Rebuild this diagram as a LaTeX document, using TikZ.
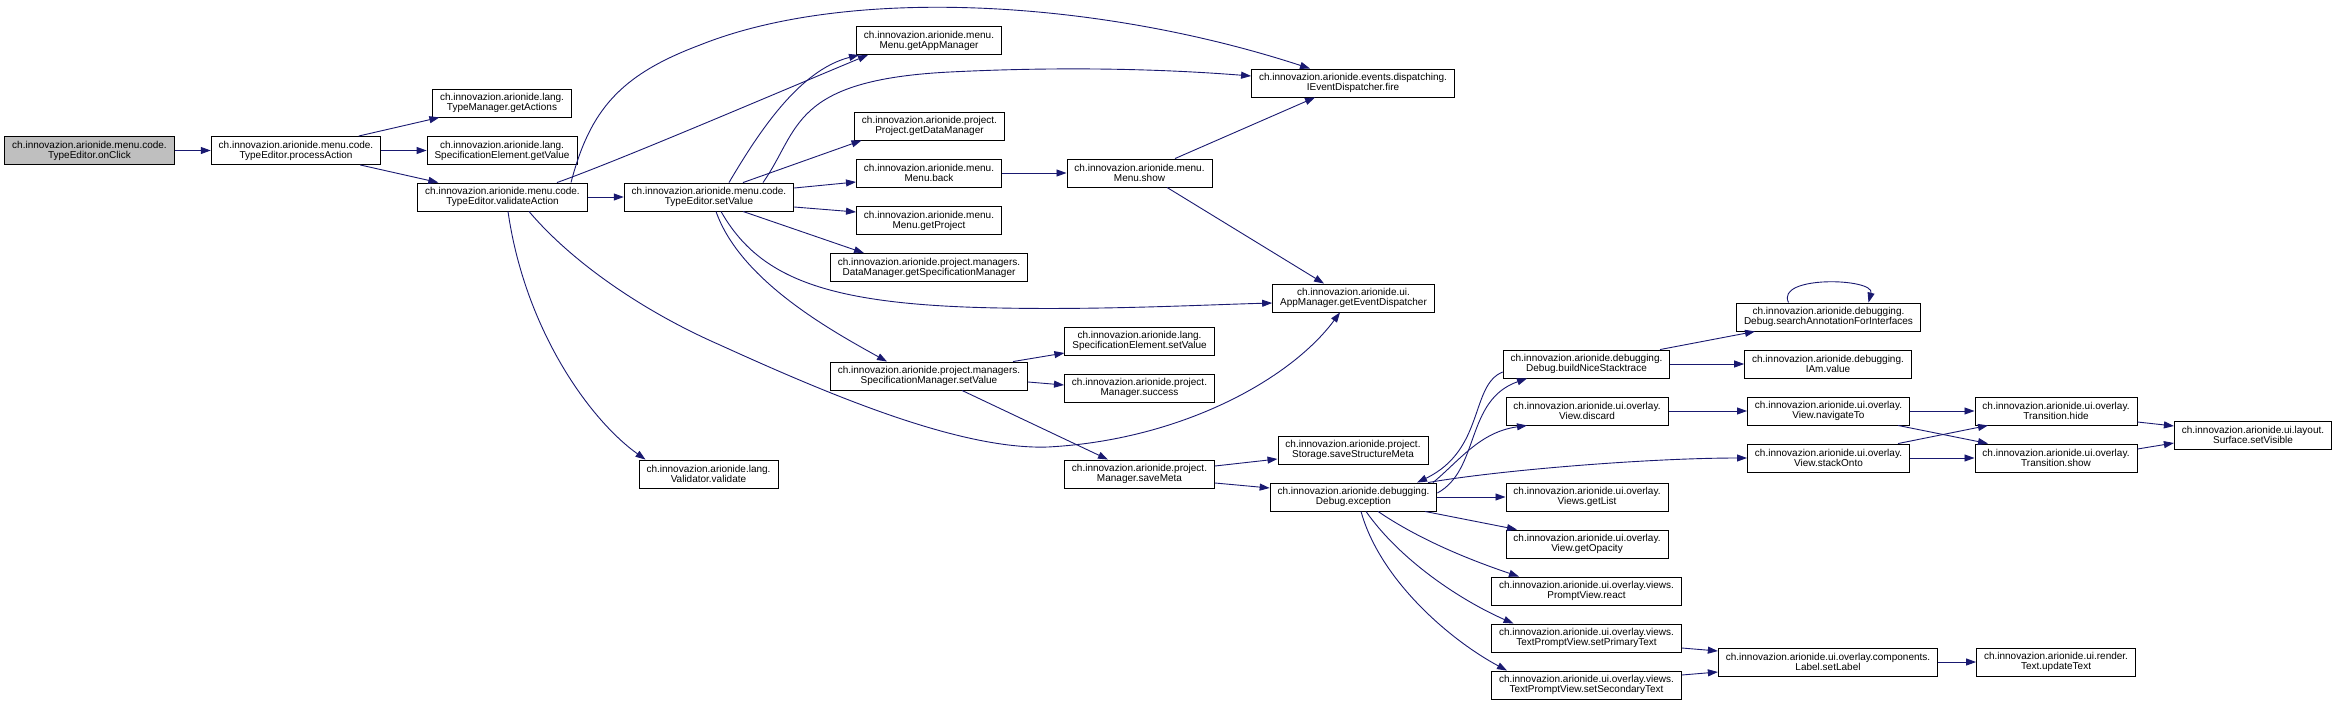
\documentclass[tikz,border=0pt]{standalone}
\usepackage{fontspec}
\setmainfont{Liberation Sans}
\usetikzlibrary{arrows.meta}

\definecolor{calledge}{HTML}{191970}
\definecolor{rootfill}{HTML}{BFBFBF}

\begin{document}
\begin{tikzpicture}[
  x=1pt, y=-1pt,
  fn/.style={rectangle, draw=black, line width=0.9pt, fill=white,
             minimum height=28pt, inner xsep=7.5pt, inner ysep=2pt,
             align=center, font=\fontsize{10}{10}\selectfont},
  root/.style={fn, fill=rootfill},
  call/.style={draw=calledge, line width=0.9pt, -{Triangle[length=10pt,width=7pt]}},
]
\useasboundingbox (0,0) rectangle (2336,704);

% ---- Caller: TypeEditor ----
\node[root] (onClick) at (89.5,150.5) {ch.innovazion.arionide.menu.code.\\TypeEditor.onClick};
\node[fn] (processAction) at (296,150.5) {ch.innovazion.arionide.menu.code.\\TypeEditor.processAction};
\node[fn] (getActions) at (502,103) {ch.innovazion.arionide.lang.\\TypeManager.getActions};
\node[fn] (SEgetValue) at (502,150.5) {ch.innovazion.arionide.lang.\\SpecificationElement.getValue};
\node[fn] (validateAction) at (502.5,197) {ch.innovazion.arionide.menu.code.\\TypeEditor.validateAction};
\node[fn] (TEsetValue) at (709,197) {ch.innovazion.arionide.menu.code.\\TypeEditor.setValue};
\node[fn] (validate) at (708.5,474) {ch.innovazion.arionide.lang.\\Validator.validate};

% ---- Menu / project ----
\node[fn] (getAppManager) at (929,40.5) {ch.innovazion.arionide.menu.\\Menu.getAppManager};
\node[fn] (getDataManager) at (929.5,126) {ch.innovazion.arionide.project.\\Project.getDataManager};
\node[fn] (back) at (929,173) {ch.innovazion.arionide.menu.\\Menu.back};
\node[fn] (getProject) at (929,220.5) {ch.innovazion.arionide.menu.\\Menu.getProject};
\node[fn] (getSpecManager) at (929,267.5) {ch.innovazion.arionide.project.managers.\\DataManager.getSpecificationManager};
\node[fn] (SMsetValue) at (929,376) {ch.innovazion.arionide.project.managers.\\SpecificationManager.setValue};
\node[fn] (show) at (1139.5,173) {ch.innovazion.arionide.menu.\\Menu.show};
\node[fn] (SEsetValue) at (1139.5,341) {ch.innovazion.arionide.lang.\\SpecificationElement.setValue};
\node[fn] (success) at (1139.5,388) {ch.innovazion.arionide.project.\\Manager.success};
\node[fn] (saveMeta) at (1139.5,474) {ch.innovazion.arionide.project.\\Manager.saveMeta};
\node[fn] (fire) at (1353,83) {ch.innovazion.arionide.events.dispatching.\\IEventDispatcher.fire};
\node[fn] (getEventDispatcher) at (1353.5,298) {ch.innovazion.arionide.ui.\\AppManager.getEventDispatcher};
\node[fn] (saveStructureMeta) at (1353,450) {ch.innovazion.arionide.project.\\Storage.saveStructureMeta};
\node[fn] (exception) at (1353.5,497) {ch.innovazion.arionide.debugging.\\Debug.exception};

% ---- Debugging / ui ----
\node[fn] (buildNice) at (1586.5,364) {ch.innovazion.arionide.debugging.\\Debug.buildNiceStacktrace};
\node[fn] (discard) at (1587,411) {ch.innovazion.arionide.ui.overlay.\\View.discard};
\node[fn] (getList) at (1587,497) {ch.innovazion.arionide.ui.overlay.\\Views.getList};
\node[fn] (getOpacity) at (1587,544) {ch.innovazion.arionide.ui.overlay.\\View.getOpacity};
\node[fn] (react) at (1586.5,591) {ch.innovazion.arionide.ui.overlay.views.\\PromptView.react};
\node[fn] (setPrimary) at (1586.5,638) {ch.innovazion.arionide.ui.overlay.views.\\TextPromptView.setPrimaryText};
\node[fn] (setSecondary) at (1586.5,685) {ch.innovazion.arionide.ui.overlay.views.\\TextPromptView.setSecondaryText};
\node[fn] (searchAnnotation) at (1828.5,317) {ch.innovazion.arionide.debugging.\\Debug.searchAnnotationForInterfaces};
\node[fn] (IAm) at (1828,364) {ch.innovazion.arionide.debugging.\\IAm.value};
\node[fn] (navigateTo) at (1828.5,411) {ch.innovazion.arionide.ui.overlay.\\View.navigateTo};
\node[fn] (stackOnto) at (1828.5,458) {ch.innovazion.arionide.ui.overlay.\\View.stackOnto};
\node[fn] (setLabel) at (1828,662) {ch.innovazion.arionide.ui.overlay.components.\\Label.setLabel};
\node[fn] (hide) at (2056,411) {ch.innovazion.arionide.ui.overlay.\\Transition.hide};
\node[fn] (Tshow) at (2056,458) {ch.innovazion.arionide.ui.overlay.\\Transition.show};
\node[fn] (updateText) at (2056,662) {ch.innovazion.arionide.ui.render.\\Text.updateText};
\node[fn] (setVisible) at (2253,435) {ch.innovazion.arionide.ui.layout.\\Surface.setVisible};

% ---- Calls from TypeEditor ----
\draw[call] (onClick) -- (processAction);
\draw[call] (processAction) -- (getActions);
\draw[call] (processAction) -- (SEgetValue);
\draw[call] (processAction) -- (validateAction);
\draw[call] (validateAction) -- (TEsetValue);
\draw[call] ([xshift=68.5pt]validateAction.north) .. controls (590,110) and (620,75) .. (700,45)
  .. controls (850,-15) and (1100,0) .. ([xshift=-43pt]fire.north);
\draw[call] ([xshift=54.5pt]validateAction.north) .. controls (620,160) and (760,100) .. ([xshift=-61pt]getAppManager.south);
\draw[call] ([xshift=26.5pt]validateAction.south) .. controls (570,260) and (640,310) .. (720,345)
  .. controls (830,395) and (960,450) .. (1048,447)
  .. controls (1180,440) and (1290,380) .. ([xshift=-13.5pt]getEventDispatcher.south);
\draw[call] ([xshift=5.5pt]validateAction.south) .. controls (525,330) and (590,420) .. ([xshift=-63pt]validate.north);

\draw[call] ([xshift=20pt]TEsetValue.north) .. controls (760,130) and (800,70) .. ([xshift=-70pt]getAppManager.south);
\draw[call] ([xshift=54pt]TEsetValue.north) .. controls (800,130) and (790,80) .. (950,72)
  .. controls (1050,67) and (1150,68) .. ([yshift=7pt]fire.west);
\draw[call] ([xshift=34pt]TEsetValue.north) -- ([xshift=-68pt]getDataManager.south);
\draw[call] ([yshift=9pt]TEsetValue.east) -- ([yshift=-9pt]back.west);
\draw[call] ([yshift=-10pt]TEsetValue.east) -- ([yshift=8.5pt]getProject.west);
\draw[call] ([xshift=34pt]TEsetValue.south) -- ([xshift=-65pt]getSpecManager.north);
\draw[call] ([xshift=12pt]TEsetValue.south) .. controls (760,280) and (830,305) .. (1000,308)
  .. controls (1100,310) and (1200,305) .. ([yshift=-5pt]getEventDispatcher.west);
\draw[call] ([xshift=7pt]TEsetValue.south) .. controls (740,280) and (830,330) .. ([xshift=-42pt]SMsetValue.north);

% ---- Menu and managers ----
\draw[call] (back) -- (show);
\draw[call] ([xshift=35.5pt]show.north) -- ([xshift=-38pt]fire.south);
\draw[call] ([xshift=27.5pt]show.south) -- ([xshift=-29.5pt]getEventDispatcher.north);
\draw[call] ([xshift=84pt]SMsetValue.north) -- ([yshift=-12pt]SEsetValue.west);
\draw[call] ([yshift=-6pt]SMsetValue.east) -- ([yshift=3pt]success.west);
\draw[call] ([xshift=33pt]SMsetValue.south) -- ([xshift=-31.5pt]saveMeta.north);
\draw[call] ([yshift=8pt]saveMeta.east) -- ([yshift=-9pt]saveStructureMeta.west);
\draw[call] ([yshift=-9pt]saveMeta.east) -- ([yshift=9pt]exception.west);

% ---- Debug.exception ----
\draw[call] ([yshift=4pt]exception.east) .. controls (1480,470) and (1465,400) .. ([xshift=-59.5pt]buildNice.south);
\draw[call] ([yshift=-8pt]buildNice.west) .. controls (1470,385) and (1485,450) .. ([xshift=63.5pt]exception.north);
\draw[call] ([xshift=79.5pt]exception.north) .. controls (1460,460) and (1480,432) .. ([xshift=-60pt]discard.south);
\draw[call] ([xshift=74.5pt]exception.north) .. controls (1500,470) and (1650,458) .. (stackOnto.west);
\draw[call] (exception) -- (getList);
\draw[call] ([xshift=71.5pt]exception.south) -- ([xshift=-70pt]getOpacity.north);
\draw[call] ([xshift=24.5pt]exception.south) .. controls (1420,540) and (1470,560) .. ([xshift=-67.5pt]react.north);
\draw[call] ([xshift=12.5pt]exception.south) .. controls (1400,560) and (1460,600) .. ([xshift=-73pt]setPrimary.north);
\draw[call] ([xshift=7.5pt]exception.south) .. controls (1380,580) and (1450,640) .. ([xshift=-79.5pt]setSecondary.north);

% ---- Stacktrace and overlay ----
\draw[call] ([xshift=73.5pt]buildNice.north) -- ([xshift=-73.5pt]searchAnnotation.south);
\draw[call] (buildNice) -- (IAm);
\draw[call] ([xshift=-40pt]searchAnnotation.north) .. controls (1775,275) and (1875,278) .. ([xshift=40pt]searchAnnotation.north);
\draw[call] (discard) -- (navigateTo);
\draw[call] (navigateTo) -- (hide);
\draw[call] ([xshift=69.5pt]navigateTo.south) -- ([xshift=-68pt]Tshow.north);
\draw[call] ([xshift=69.5pt]stackOnto.north) -- ([xshift=-68pt]hide.south);
\draw[call] (stackOnto) -- (Tshow);
\draw[call] ([yshift=-11pt]hide.east) -- ([yshift=9pt]setVisible.west);
\draw[call] ([yshift=9pt]Tshow.east) -- ([yshift=-8pt]setVisible.west);
\draw[call] ([yshift=-10pt]setPrimary.east) -- ([yshift=11pt]setLabel.west);
\draw[call] ([yshift=10pt]setSecondary.east) -- ([yshift=-10pt]setLabel.west);
\draw[call] (setLabel) -- (updateText);

\end{tikzpicture}
\end{document}
